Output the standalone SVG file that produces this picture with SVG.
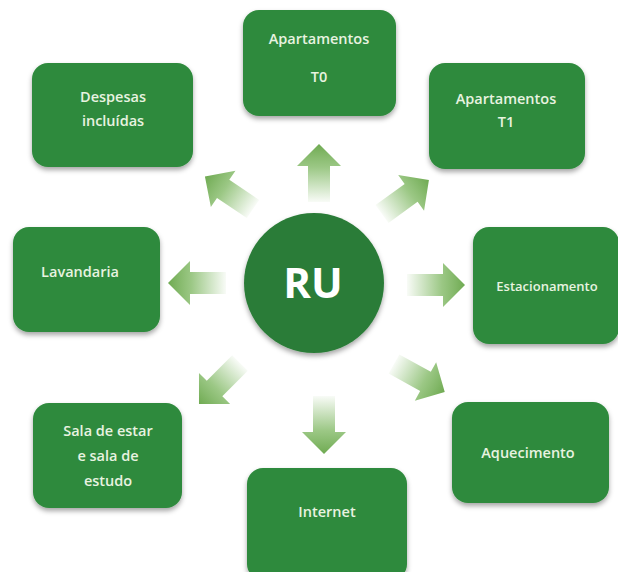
<svg xmlns="http://www.w3.org/2000/svg" width="618" height="572" viewBox="0 0 618 572">
<defs>
<linearGradient id="ag" x1="0" y1="0" x2="1" y2="0">
<stop offset="0" stop-color="#7ab55c" stop-opacity="0.05"/>
<stop offset="0.6" stop-color="#7ab55c" stop-opacity="0.75"/>
<stop offset="1" stop-color="#6faa52"/>
</linearGradient>
<filter id="sh" x="-10%" y="-10%" width="120%" height="125%">
<feDropShadow dx="0" dy="3" stdDeviation="2.5" flood-color="#000" flood-opacity="0.35"/>
</filter>
<path id="arr" d="M0,-11 H36 V-22 L58,0 L36,22 V11 H0 Z"/>
</defs>
<style>
.box{fill:#2f8a3d;filter:url(#sh);}
.t{font-family:"Open Sans","DejaVu Sans",sans-serif;font-size:14.5px;font-weight:600;fill:#e8f3e0;text-anchor:middle;}
.a{fill:url(#ag);}
</style>
<rect width="618" height="572" fill="#ffffff"/>
<g id="connectors">
<use href="#arr" class="a" transform="translate(319,202) rotate(-90)"/>
<use href="#arr" class="a" transform="translate(324,396) rotate(90)"/>
<use href="#arr" class="a" transform="translate(226,283) rotate(180)"/>
<use href="#arr" class="a" transform="translate(407,285) rotate(0)"/>
<use href="#arr" class="a" transform="translate(253,209) rotate(-146)"/>
<use href="#arr" class="a" transform="translate(382,214) rotate(-36)"/>
<use href="#arr" class="a" transform="translate(240,363) rotate(135)"/>
<use href="#arr" class="a" transform="translate(394,364) rotate(29)"/>
</g>
<g id="center">
<circle cx="314" cy="283" r="70" fill="#2b7c38" filter="url(#sh)"/>
<text x="313" y="298" font-family="'Open Sans','DejaVu Sans',sans-serif" font-size="42" font-weight="bold" fill="#ffffff" text-anchor="middle">RU</text>
</g>
<g id="t0">
<rect class="box" x="243" y="10" width="153" height="106" rx="16"/>
<text class="t" x="319" y="44">Apartamentos</text>
<text class="t" x="319" y="82">T0</text>
</g>
<g id="despesas">
<rect class="box" x="32" y="63" width="161" height="104" rx="16"/>
<text class="t" x="113" y="102">Despesas</text>
<text class="t" x="113" y="126">incluídas</text>
</g>
<g id="t1">
<rect class="box" x="429" y="63" width="156" height="106" rx="16"/>
<text class="t" x="506" y="104">Apartamentos</text>
<text class="t" x="506" y="127">T1</text>
</g>
<g id="lavandaria">
<rect class="box" x="13" y="227" width="147" height="105" rx="16"/>
<text class="t" x="80" y="277">Lavandaria</text>
</g>
<g id="estacionamento">
<rect class="box" x="473" y="227" width="146" height="117" rx="16"/>
<text class="t" x="547" y="291" style="font-size:13px">Estacionamento</text>
</g>
<g id="aquecimento">
<rect class="box" x="452" y="402" width="157" height="101" rx="16"/>
<text class="t" x="528" y="458">Aquecimento</text>
</g>
<g id="sala">
<rect class="box" x="33" y="403" width="149" height="105" rx="16"/>
<text class="t" x="108" y="436">Sala de estar</text>
<text class="t" x="108" y="461">e sala de</text>
<text class="t" x="108" y="486">estudo</text>
</g>
<g id="internet">
<rect class="box" x="247" y="468" width="160" height="112" rx="16"/>
<text class="t" x="327" y="517">Internet</text>
</g>
</svg>
